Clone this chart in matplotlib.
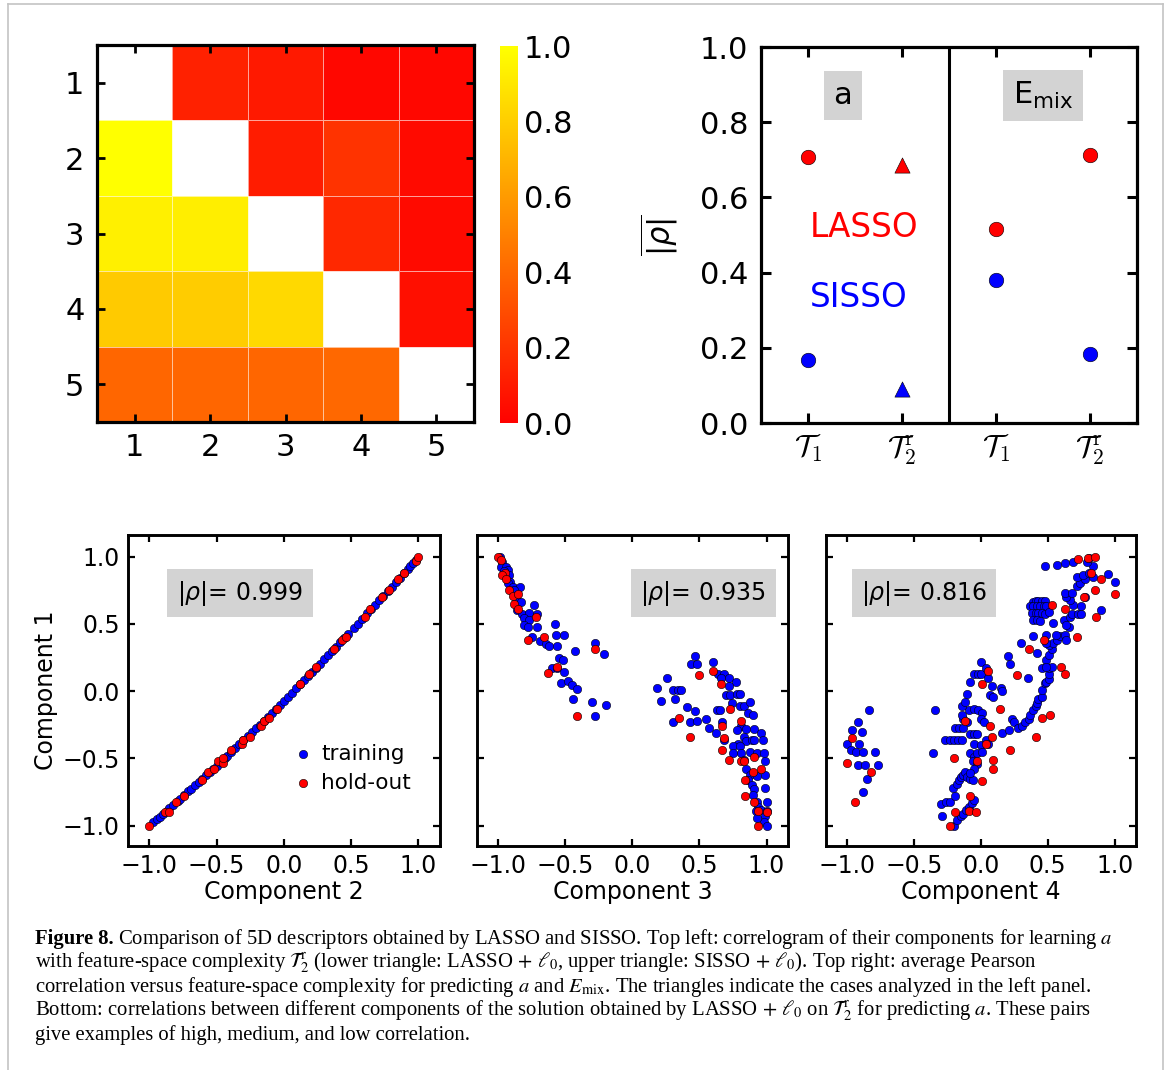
import numpy as np
import matplotlib
matplotlib.use("Agg")
import matplotlib.pyplot as plt
from matplotlib.lines import Line2D

plt.rcParams['font.family'] = ['DejaVu Sans']

# ------------------------------------------------------------------ data
nan = np.nan
heat_labels = [1, 2, 3, 4, 5]
# lower triangle: LASSO+l0, upper triangle: SISSO+l0
corr_matrix = [
    [nan, 0.13, 0.10, 0.03, 0.03],
    [1.00, nan, 0.11, 0.20, 0.04],
    [0.94, 0.93, nan, 0.16, 0.04],
    [0.79, 0.80, 0.85, nan, 0.06],
    [0.40, 0.40, 0.40, 0.41, nan],
]
cbar_ticks = [0.0, 0.2, 0.4, 0.6, 0.8, 1.0]

complexity_labels = [r'$\mathcal{T}_1$', r'$\mathcal{T}_2^{\mathrm{r}}$',
                     r'$\mathcal{T}_1$', r'$\mathcal{T}_2^{\mathrm{r}}$']
lasso_rho = [0.707, 0.685, 0.516, 0.712]
sisso_rho = [0.168, 0.090, 0.381, 0.183]
point_markers = ['o', '^', 'o', 'o']
target_names = ['a', r'E$_{\rm mix}$']

# bottom panels: (component k, component 1)
train_c2 = [(-0.97, -0.974), (-0.94, -0.948), (-0.92, -0.931), (-0.90, -0.913), (-0.87, -0.887),
            (-0.85, -0.869), (-0.82, -0.843), (-0.79, -0.816), (-0.77, -0.798), (-0.74, -0.772),
            (-0.71, -0.745), (-0.69, -0.727), (-0.66, -0.699), (-0.63, -0.672), (-0.61, -0.654),
            (-0.58, -0.626), (-0.55, -0.599), (-0.53, -0.580), (-0.50, -0.553), (-0.47, -0.525),
            (-0.44, -0.496), (-0.42, -0.478), (-0.39, -0.449), (-0.36, -0.421), (-0.33, -0.392),
            (-0.30, -0.364), (-0.27, -0.335), (-0.24, -0.306), (-0.21, -0.277), (-0.18, -0.248),
            (-0.15, -0.218), (-0.12, -0.189), (-0.09, -0.159), (-0.06, -0.130), (-0.03, -0.100),
            (0.00, -0.070), (0.03, -0.040), (0.06, -0.010), (0.09, 0.021), (0.12, 0.051),
            (0.15, 0.082), (0.18, 0.112), (0.21, 0.143), (0.24, 0.174), (0.27, 0.205),
            (0.30, 0.236), (0.33, 0.268), (0.36, 0.299), (0.39, 0.331), (0.42, 0.362),
            (0.45, 0.394), (0.48, 0.426), (0.52, 0.469), (0.55, 0.501), (0.58, 0.534),
            (0.62, 0.577), (0.65, 0.610), (0.68, 0.642), (0.71, 0.675), (0.74, 0.708),
            (0.77, 0.742), (0.80, 0.775), (0.83, 0.808), (0.86, 0.842), (0.89, 0.875),
            (0.92, 0.909), (0.94, 0.932), (0.96, 0.955), (0.98, 0.977)]
hold_c2 = [(-1.00, -1.00), (-0.88, -0.90), (-0.85, -0.90), (-0.80, -0.82), (-0.74, -0.78),
           (-0.61, -0.66), (-0.56, -0.60), (-0.52, -0.58), (-0.49, -0.52), (-0.45, -0.53),
           (-0.45, -0.50), (-0.39, -0.44), (-0.31, -0.39), (-0.30, -0.36), (-0.25, -0.34),
           (-0.17, -0.26), (-0.15, -0.22), (-0.11, -0.20), (-0.05, -0.13), (0.12, 0.05),
           (0.19, 0.13), (0.24, 0.18), (0.37, 0.31), (0.43, 0.38), (0.46, 0.40),
           (0.60, 0.55), (0.64, 0.61), (0.73, 0.70), (0.78, 0.75), (0.85, 0.83),
           (0.89, 0.88), (0.98, 0.97), (1.00, 1.00)]

train_c3 = [(-0.99, 0.995), (-0.97, 0.963), (-0.98, 0.926), (-0.94, 0.926), (-0.93, 0.901),
            (-0.96, 0.889), (-0.92, 0.864), (-0.91, 0.814), (-0.93, 0.802), (-0.89, 0.777),
            (-0.84, 0.777), (-0.88, 0.752), (-0.87, 0.691), (-0.83, 0.666), (-0.86, 0.604),
            (-0.82, 0.574), (-0.77, 0.579), (-0.73, 0.641), (-0.71, 0.574), (-0.81, 0.542),
            (-0.77, 0.530), (-0.81, 0.493), (-0.78, 0.475), (-0.71, 0.475), (-0.75, 0.406),
            (-0.69, 0.376), (-0.64, 0.351), (-0.62, 0.337), (-0.56, 0.332), (-0.58, 0.500),
            (-0.57, 0.418), (-0.51, 0.418), (-0.55, 0.245), (-0.52, 0.233), (-0.60, 0.171),
            (-0.56, 0.171), (-0.51, 0.139), (-0.53, 0.059), (-0.48, 0.072), (-0.45, 0.047),
            (-0.41, 0.017), (-0.44, -0.059), (-0.30, -0.077), (-0.28, -0.181), (-0.20, -0.101),
            (-0.28, 0.361), (-0.21, 0.275), (-0.43, 0.295),
            (0.47, 0.26), (0.44, 0.20), (0.48, 0.20), (0.26, 0.10), (0.60, 0.22), (0.18, 0.02),
            (0.21, -0.07), (0.30, 0.01), (0.34, 0.01), (0.36, 0.01), (0.32, -0.06), (0.41, -0.12),
            (0.47, -0.15), (0.30, -0.23), (0.43, -0.23), (0.48, -0.22), (0.55, -0.21), (0.57, -0.27),
            (0.63, -0.14), (0.65, -0.14), (0.67, -0.23), (0.62, -0.31), (0.68, -0.36), (0.64, 0.13),
            (0.68, 0.13), (0.66, 0.10), (0.72, 0.10), (0.77, 0.07), (0.72, 0.04), (0.70, -0.03),
            (0.73, -0.03), (0.78, -0.02), (0.80, -0.02), (0.74, -0.09), (0.80, -0.11), (0.83, -0.11),
            (0.88, -0.08), (0.86, -0.16), (0.90, -0.18), (0.81, -0.26), (0.85, -0.28), (0.91, -0.28),
            (0.78, -0.29), (0.83, -0.34), (0.79, -0.39), (0.85, -0.37), (0.89, -0.36), (0.91, -0.36),
            (0.96, -0.31), (0.97, -0.36), (0.75, -0.41), (0.80, -0.41), (0.75, -0.46), (0.81, -0.46),
            (0.88, -0.45), (0.93, -0.46), (0.98, -0.46), (0.99, -0.52), (0.83, -0.51), (0.85, -0.58),
            (0.88, -0.62), (0.93, -0.63), (0.99, -0.62), (0.86, -0.66), (0.89, -0.70), (0.91, -0.73),
            (0.99, -0.72), (0.90, -0.77), (0.93, -0.82), (1.00, -0.82), (0.94, -0.86), (0.96, -0.88),
            (0.99, -0.93), (1.00, -0.89), (0.98, -0.97), (1.00, -1.00), (0.92, -0.89), (0.93, -0.94)]
hold_c3 = [(-1.00, 1.00), (-0.98, 0.975), (-0.95, 0.876), (-0.97, 0.864), (-0.94, 0.832),
           (-0.92, 0.752), (-0.89, 0.708), (-0.85, 0.720), (-0.88, 0.646), (-0.85, 0.609),
           (-0.72, 0.550), (-0.78, 0.381), (-0.66, 0.399), (-0.56, 0.183), (-0.63, 0.134),
           (-0.41, -0.188), (-0.28, 0.312),
           (0.35, -0.20), (0.43, -0.34), (0.50, 0.12), (0.60, 0.15), (0.66, 0.05), (0.67, -0.26),
           (0.68, -0.35), (0.67, -0.44), (0.72, -0.51), (0.73, -0.13), (0.81, -0.22), (0.81, -0.52),
           (0.84, -0.66), (0.91, -0.49), (0.90, -0.60), (0.96, -0.58), (0.84, -0.78), (0.91, -0.82),
           (0.94, -0.89), (1.00, -0.90), (0.94, -1.00), (0.83, -0.52)]

train_c4 = [(-0.84, -0.14), (-0.92, -0.23), (-0.96, -0.29), (-0.89, -0.30), (-1.00, -0.39),
            (-0.91, -0.39), (-0.97, -0.44), (-0.93, -0.45), (-0.88, -0.45), (-0.79, -0.45),
            (-0.92, -0.55), (-0.87, -0.55), (-0.77, -0.55), (-0.85, -0.65), (-0.88, -0.75),
            (-0.34, -0.14), (-0.36, -0.46), (-0.30, -0.84), (-0.29, -0.93), (-0.26, -0.82),
            (-0.23, -0.82), (-0.19, -0.78), (-0.21, -0.72), (-0.18, -0.69), (-0.16, -0.66),
            (-0.15, -0.64), (-0.13, -0.62), (-0.12, -0.60), (-0.10, -0.64), (-0.08, -0.65),
            (-0.06, -0.66), (-0.20, -1.00), (-0.18, -0.96), (-0.15, -0.93), (-0.13, -0.91),
            (-0.11, -0.88), (-0.09, -0.86), (-0.07, -0.83), (-0.05, -0.81), (-0.10, -0.23),
            (-0.09, -0.14), (-0.05, -0.13), (-0.02, -0.14), (0.01, -0.16), (0.00, -0.21),
            (0.02, -0.23), (-0.08, -0.32), (-0.05, -0.32), (-0.03, -0.32), (-0.05, -0.39),
            (0.00, -0.40), (0.04, -0.36), (0.05, -0.39), (-0.08, -0.46), (-0.05, -0.49),
            (-0.03, -0.46), (0.01, -0.45), (-0.06, -0.52), (-0.03, -0.54), (-0.05, -0.58),
            (-0.08, -0.61), (-0.27, -0.36), (-0.23, -0.36), (-0.20, -0.36), (-0.17, -0.36),
            (-0.14, -0.36), (-0.19, -0.27), (-0.16, -0.27), (-0.13, -0.27), (-0.13, -0.21),
            (-0.14, -0.18), (-0.14, -0.11), (-0.12, -0.08), (-0.10, -0.02), (-0.08, 0.07),
            (-0.05, 0.13), (-0.02, 0.13), (0.00, 0.13), (0.00, 0.22), (0.04, 0.17),
            (0.05, 0.10), (0.08, 0.04), (0.07, -0.03), (0.09, -0.04), (0.15, 0.02), (0.16, 0.00),
            (0.16, -0.31), (0.21, -0.29), (0.23, -0.21), (0.25, -0.23), (0.28, -0.27), (0.31, -0.26),
            (0.33, -0.23), (0.36, -0.21), (0.37, -0.18), (0.39, -0.14), (0.41, -0.11), (0.42, -0.09),
            (0.43, -0.06), (0.46, -0.04), (0.46, 0.01), (0.48, 0.06), (0.49, 0.07), (0.51, 0.09),
            (0.51, 0.13), (0.51, 0.17), (0.53, 0.18), (0.49, 0.23), (0.51, 0.27), (0.53, 0.31),
            (0.51, 0.34), (0.54, 0.36), (0.57, 0.38), (0.59, 0.41), (0.63, 0.42), (0.64, 0.38),
            (0.66, 0.48), (0.62, 0.53), (0.64, 0.49), (0.67, 0.55), (0.68, 0.57), (0.73, 0.57),
            (0.75, 0.57), (0.75, 0.63), (0.69, 0.64), (0.67, 0.68), (0.64, 0.70), (0.63, 0.73),
            (0.68, 0.73), (0.72, 0.78), (0.74, 0.80), (0.78, 0.83), (0.72, 0.85), (0.76, 0.86),
            (0.81, 0.88), (0.84, 0.93), (0.79, 0.96), (0.81, 0.99), (0.69, 0.96), (0.63, 0.95),
            (0.57, 0.94), (0.48, 0.93), (0.78, 0.70), (0.90, 0.60), (1.00, 0.81), (0.95, 0.87),
            (0.84, 0.85),
            (0.39, 0.66), (0.41, 0.67), (0.43, 0.67), (0.46, 0.67), (0.48, 0.67), (0.37, 0.63),
            (0.39, 0.63), (0.42, 0.63), (0.44, 0.63), (0.47, 0.63), (0.49, 0.63), (0.38, 0.58),
            (0.41, 0.58), (0.43, 0.58), (0.46, 0.58), (0.48, 0.57), (0.39, 0.53), (0.42, 0.53),
            (0.44, 0.52), (0.51, 0.59), (0.54, 0.51), (0.49, 0.42), (0.56, 0.42), (0.49, 0.36),
            (0.42, 0.28), (0.46, 0.17), (0.49, 0.18), (0.39, 0.41), (0.30, 0.36), (0.20, 0.26),
            (0.22, 0.20), (0.35, 0.10)]
hold_c4 = [(-0.96, -0.35), (-1.00, -0.53), (-0.82, -0.60), (-0.94, -0.82), (-0.23, -1.00),
           (-0.19, -0.90), (-0.09, -0.89), (-0.04, -0.90), (-0.08, -0.78), (0.05, 0.15),
           (0.01, 0.05), (0.14, -0.13), (0.07, -0.26), (0.04, -0.39), (0.08, -0.34),
           (-0.03, -0.52), (0.09, -0.51), (0.09, -0.58), (0.01, -0.67), (-0.12, -0.22),
           (-0.20, -0.50), (0.53, 0.64), (0.63, 0.61), (0.47, 0.38), (0.36, 0.31),
           (0.60, 0.18), (0.63, 0.13), (0.27, 0.12), (0.46, -0.20), (0.52, -0.18),
           (0.41, -0.34), (0.22, -0.44), (0.73, 0.98), (0.80, 0.99), (0.85, 1.00),
           (0.82, 0.88), (0.90, 0.83), (0.85, 0.75), (0.77, 0.70), (1.00, 0.72),
           (0.86, 0.55), (0.72, 0.40)]

panel_xlabels = ['Component 2', 'Component 3', 'Component 4']
panel_rho = ['0.999', '0.935', '0.816']
scatter_ticks = [-1.0, -0.5, 0.0, 0.5, 1.0]

caption_lines = [
    r"Comparison of 5D descriptors obtained by LASSO and SISSO. Top left: correlogram of their components for learning $a$",
    r"with feature-space complexity $\mathcal{T}_2^{\mathrm{r}}$ (lower triangle: LASSO$\,+\,\ell_0$, upper triangle: SISSO$\,+\,\ell_0$). Top right: average Pearson",
    r"correlation versus feature-space complexity for predicting $a$ and $E_{\mathrm{mix}}$. The triangles indicate the cases analyzed in the left panel.",
    r"Bottom: correlations between different components of the solution obtained by LASSO$\,+\,\ell_0$ on $\mathcal{T}_2^{\mathrm{r}}$ for predicting $a$. These pairs",
    r"give examples of high, medium, and low correlation.",
]

# ------------------------------------------------------------------ figure
W, H = 1170, 1070
fig = plt.figure(figsize=(W / 100, H / 100), dpi=100)


def px_axes(l, t, r, b):
    return fig.add_axes([l / W, 1 - b / H, (r - l) / W, (b - t) / H])


BLUE, RED = '#0000ff', '#ff0000'
BOXC = '#d3d3d3'

# --- heatmap
ax_h = px_axes(97, 45, 474, 422)
M = np.ma.masked_invalid(np.array(corr_matrix))
edges = np.arange(len(heat_labels) + 1) + 0.5
mesh = ax_h.pcolormesh(edges, edges, M, cmap='autumn', vmin=0, vmax=1,
                       edgecolors=(1, 1, 1, 0.6), linewidth=0.7)
ax_h.set_xlim(edges[0], edges[-1])
ax_h.set_ylim(edges[-1], edges[0])
ax_h.set_xticks(heat_labels)
ax_h.set_yticks(heat_labels)
ax_h.tick_params(direction='in', length=6, width=2, top=True, right=True,
                 labelsize=22)
ax_h.tick_params(axis='x', pad=8)
ax_h.tick_params(axis='y', pad=9)
for s in ax_h.spines.values():
    s.set_linewidth(2.3)

cax = px_axes(500, 46, 518, 423)
cb = fig.colorbar(mesh, cax=cax, ticks=cbar_ticks)
cb.outline.set_visible(False)
cb.solids.set_edgecolor('face')
cax.tick_params(length=0, labelsize=22, pad=4)
cax.set_yticklabels([f'{t:.1f}' for t in cbar_ticks])

# --- average correlation panel
ax_r = px_axes(761, 47, 1137, 423)
xpos = np.arange(len(complexity_labels)) + 0.5
for x, yl, ys, mk in zip(xpos, lasso_rho, sisso_rho, point_markers):
    ax_r.scatter([x], [yl], s=110 if mk == 'o' else 120, marker=mk, c=RED,
                 edgecolors='k', linewidths=0.4, zorder=3)
    ax_r.scatter([x], [ys], s=110 if mk == 'o' else 120, marker=mk, c=BLUE,
                 edgecolors='k', linewidths=0.4, zorder=3)
ax_r.axvline(len(xpos) / 2, color='k', lw=2.2)
ax_r.set_xlim(0, len(xpos))
ax_r.set_ylim(0, 1)
ax_r.set_yticks(cbar_ticks)
ax_r.set_yticklabels([f'{t:.1f}' for t in cbar_ticks])
ax_r.set_xticks(xpos)
ax_r.set_xticklabels(complexity_labels, math_fontfamily='cm')
ax_r.tick_params(direction='in', length=7, width=2.2, top=True, right=True,
                 labelsize=22)
ax_r.tick_params(axis='y', pad=9)
ax_r.tick_params(axis='x', pad=7)
for s in ax_r.spines.values():
    s.set_linewidth(2.3)
ax_r.set_ylabel(r'$\overline{|\rho|}$', fontsize=22, labelpad=14)
ax_r.text(0.87, 0.871, target_names[0], fontsize=22, ha='center', va='center',
          bbox=dict(boxstyle='square,pad=0.32', fc=BOXC, ec='none'))
ax_r.text(3.0, 0.871, target_names[1], fontsize=22, ha='center', va='center',
          bbox=dict(boxstyle='square,pad=0.32', fc=BOXC, ec='none'))
ax_r.text(0.52, 0.52, 'LASSO', color=RED, fontsize=23.5, ha='left', va='center')
ax_r.text(0.52, 0.334, 'SISSO', color=BLUE, fontsize=23.5, ha='left', va='center')

# --- bottom scatter panels
bottom_boxes = [(128, 440), (477, 788), (826, 1136)]
rho_xfrac = [0.359, 0.728, 0.316]
pairs_train = [train_c2, train_c3, train_c4]
pairs_hold = [hold_c2, hold_c3, hold_c4]
for i, (l, r) in enumerate(bottom_boxes):
    ax = px_axes(l, 535, r, 846)
    tr = np.array(pairs_train[i])
    ho = np.array(pairs_hold[i])
    ax.scatter(tr[:, 0], tr[:, 1], s=36, c=BLUE, edgecolors='k',
               linewidths=0.4, label='training', zorder=2)
    ax.scatter(ho[:, 0], ho[:, 1], s=36, c=RED, edgecolors='k',
               linewidths=0.4, label='hold-out', zorder=3)
    ax.set_xlim(-1.158, 1.16)
    ax.set_ylim(-1.15, 1.16)
    ax.set_xticks(scatter_ticks)
    ax.set_yticks(scatter_ticks)
    ax.set_xticklabels([f'{t:.1f}'.replace('-', '\u2212') for t in scatter_ticks])
    ax.set_yticklabels([f'{t:.1f}'.replace('-', '\u2212') for t in scatter_ticks])
    ax.tick_params(direction='in', length=5, width=1.6, top=True, right=True,
                   labelsize=17, pad=6)
    if i > 0:
        ax.tick_params(labelleft=False)
    for s in ax.spines.values():
        s.set_linewidth(2.1)
    ax.set_xlabel(panel_xlabels[i], fontsize=17, labelpad=1)
    if i == 0:
        ax.set_ylabel('Component 1', fontsize=17, labelpad=3)
        ax.legend(loc='center left', bbox_to_anchor=(0.505, 0.25), frameon=False,
                  fontsize=15.5, scatterpoints=1, handlelength=0.6,
                  handletextpad=0.55, labelspacing=0.4, borderpad=0)
    ax.text(rho_xfrac[i], 0.813, r'$|\rho|$= ' + panel_rho[i], transform=ax.transAxes,
            fontsize=17, ha='center', va='center',
            bbox=dict(boxstyle='square,pad=0.4', fc=BOXC, ec='none'))

# --- caption
cap_font = ['Liberation Serif', 'DejaVu Serif']
cap_size = 14.85
base_y = [944, 968, 992, 1016, 1040]
t0 = fig.text(35 / W, 1 - base_y[0] / H, 'Figure 8.', family=cap_font,
              fontweight='bold', fontsize=cap_size, va='baseline', ha='left')
fig.canvas.draw()
bb = t0.get_window_extent()
fig.text((bb.x1 + 4) / W, 1 - base_y[0] / H, caption_lines[0], family=cap_font,
         fontsize=cap_size, va='baseline', ha='left', math_fontfamily='stix')
for line, yb in zip(caption_lines[1:], base_y[1:]):
    fig.text(35 / W, 1 - yb / H, line, family=cap_font, fontsize=cap_size,
             va='baseline', ha='left', math_fontfamily='stix')

# --- page frame
frame = dict(color='#c4c4c4', lw=1.2, transform=None)
fig.add_artist(Line2D([8, 1163], [H - 4, H - 4], **frame))
fig.add_artist(Line2D([8, 8], [0, H - 4], **frame))
fig.add_artist(Line2D([1163, 1163], [0, H - 4], **frame))

fig.savefig('out.png', dpi=100)
